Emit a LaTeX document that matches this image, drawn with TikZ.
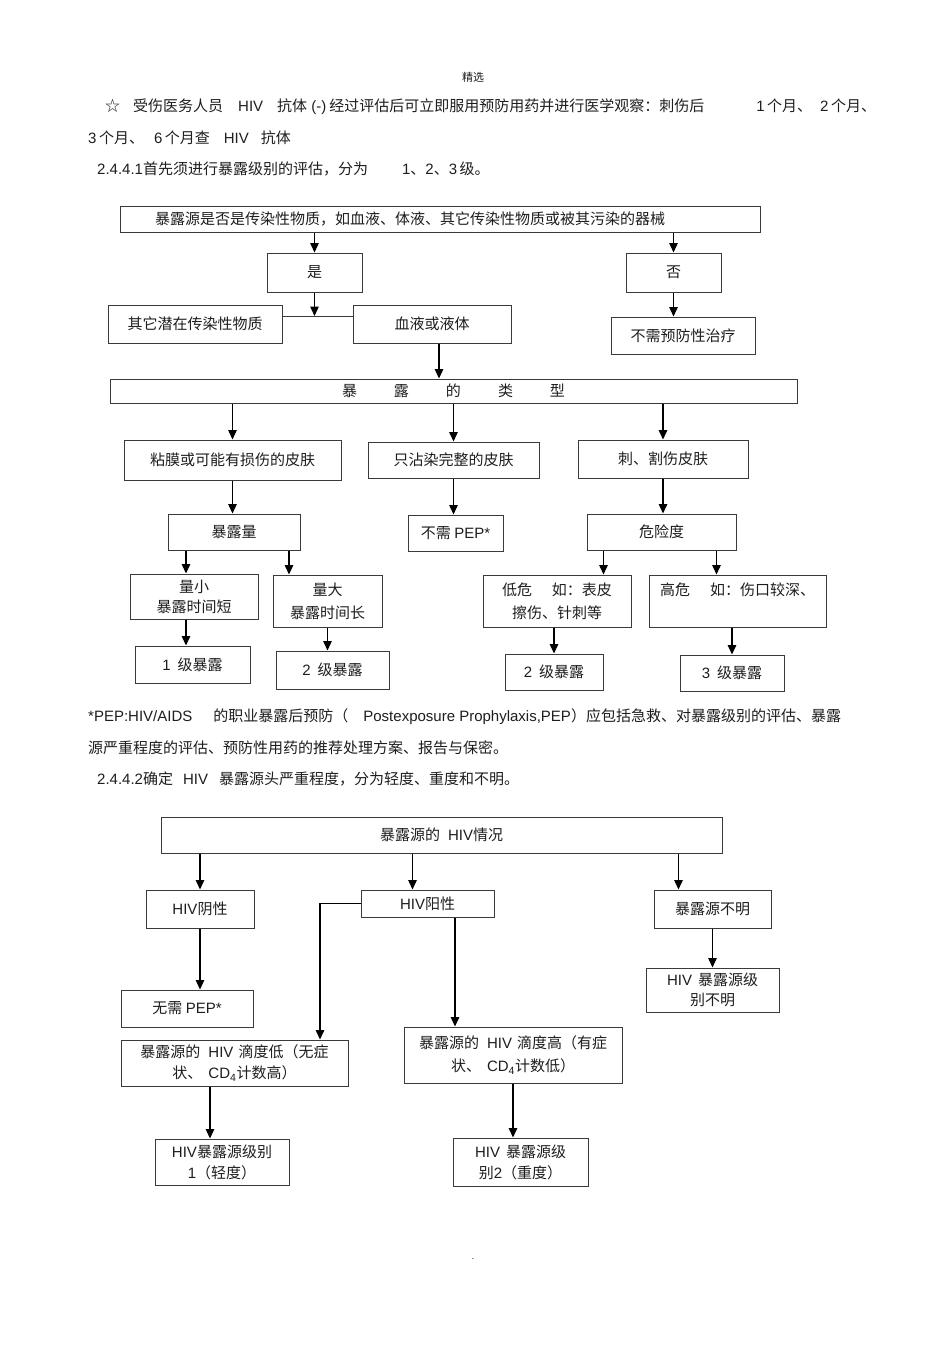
\documentclass[tikz,border=0pt]{standalone}
\usepackage{fontspec}
\setmainfont{Noto Sans CJK SC}
\newfontfamily\en{Liberation Sans}
\usetikzlibrary{positioning,arrows.meta}
\definecolor{ink}{HTML}{1E1E1E}
\definecolor{frame}{HTML}{3A3A3A}

\begin{document}
\begin{tikzpicture}[
  x=1pt,y=-1pt,
  every node/.style={font=\fontsize{15}{23}\selectfont,text=ink},
  box/.style={draw=frame,line width=1pt,inner sep=0pt,align=center},
  line/.style={anchor=west,inner sep=0pt},
  arrow/.style={-{Triangle[length=9.5pt,width=8.5pt]},draw=black,line width=1.4pt}
]
\fill[white] (0,0) rectangle (950,1345);
\useasboundingbox (0,0) rectangle (950,1345);

\node[inner sep=0pt,font=\fontsize{11}{13}\selectfont] (mark) at (473,77) {精选};
\node[line] (intro) at (105,107) {☆\hspace{13pt}受伤医务人员\hspace{15pt}{\en HIV}\hspace{14pt}抗体{\en\ (-)}\hspace{3pt}经过评估后可立即服用预防用药并进行医学观察：刺伤后\hspace{52pt}{\en 1}\,个月、\hspace{8pt}{\en 2}\,个月、};
\node[line] (introb) at (88,138) {{\en 3}\,个月、\hspace{10pt}{\en 6}\,个月查\hspace{14pt}{\en HIV}\hspace{12pt}抗体};
\node[line] (sec1) at (97,169) {{\en 2.4.4.1}首先须进行暴露级别的评估，分为\hspace{34pt}{\en 1}、{\en 2}、{\en 3}\,级。};

\node[box,minimum width=640,minimum height=26,text width=570,inner xsep=35pt,align=left] (q) at (440,219) {暴露源是否是传染性物质，如血液、体液、其它传染性物质或被其污染的器械};
\node[box,minimum width=95,minimum height=39] (yes) at (314.5,272.5) {是};
\node[box,minimum width=95,minimum height=39] (no) at (673.5,272.5) {否};
\node[box,minimum width=174,minimum height=38] (other) at (195,324) {其它潜在传染性物质};
\node[box,minimum width=158,minimum height=38] (blood) at (432,324) {血液或液体};
\node[box,minimum width=144,minimum height=37] (none) at (683,335.5) {不需预防性治疗};
\node[box,minimum width=687,minimum height=24] (type) at (453.5,391) {暴\hspace{37pt}露\hspace{37pt}的\hspace{37pt}类\hspace{37pt}型};
\node[box,minimum width=217,minimum height=40] (mucosa) at (232.5,460) {粘膜或可能有损伤的皮肤};
\node[box,minimum width=171,minimum height=36] (intact) at (453.5,460) {只沾染完整的皮肤};
\node[box,minimum width=170,minimum height=38] (stab) at (663,459) {刺、割伤皮肤};
\node[box,minimum width=132,minimum height=36] (vol) at (234,532) {暴露量};
\node[box,minimum width=95,minimum height=36] (nopep) at (455.5,533) {不需 {\en PEP*}};
\node[box,minimum width=149,minimum height=36] (risk) at (661.5,532) {危险度};
\node[box,minimum width=128,minimum height=45] (small) at (194,596.5) {量小\\[-3pt]暴露时间短};
\node[box,minimum width=109,minimum height=52] (large) at (327.5,601) {量大\\暴露时间长};
\node[box,minimum width=148,minimum height=52] (low) at (557,601) {低危\hspace{20pt}如：表皮\\擦伤、针刺等};
\node[box,minimum width=177,minimum height=52] (high) at (737.5,601) {高危\hspace{20pt}如：伤口较深、\\\mbox{}};
\node[box,minimum width=115,minimum height=37] (lv1) at (192.5,664.5) {{\en 1}\hspace{7pt}级暴露};
\node[box,minimum width=113,minimum height=38] (lv2a) at (332.5,670) {{\en 2}\hspace{7pt}级暴露};
\node[box,minimum width=98,minimum height=36] (lv2b) at (554,672) {{\en 2}\hspace{7pt}级暴露};
\node[box,minimum width=104,minimum height=36] (lv3) at (732,673) {{\en 3}\hspace{7pt}级暴露};

\coordinate (join) at (310,316);
\draw[arrow] (yes.north |- q.south) -- (yes.north);
\draw[arrow] (no.north |- q.south) -- (no.north);
\draw[frame,line width=1pt] (other.east |- join) -- (blood.west |- join);
\draw[arrow] (yes.south) -- (yes.south |- join);
\draw[arrow] (no.south) -- (no.south |- none.north);
\draw[arrow] ([xshift=7pt]blood.south) -- ([xshift=7pt]blood.south |- type.north);
\draw[arrow] (mucosa.north |- type.south) -- (mucosa.north);
\draw[arrow] (intact.north |- type.south) -- (intact.north);
\draw[arrow] (stab.north |- type.south) -- (stab.north);
\draw[arrow] (mucosa.south) -- (mucosa.south |- vol.north);
\draw[arrow] (intact.south) -- (intact.south |- nopep.north);
\draw[arrow] (stab.south) -- (stab.south |- risk.north);
\draw[arrow] ([xshift=-48pt]vol.south) -- ([xshift=-48pt]vol.south |- small.north);
\draw[arrow] ([xshift=55pt]vol.south) -- ([xshift=55pt]vol.south |- large.north);
\draw[arrow] ([xshift=-58pt]risk.south) -- ([xshift=-58pt]risk.south |- low.north);
\draw[arrow] ([xshift=55pt]risk.south) -- ([xshift=55pt]risk.south |- high.north);
\draw[arrow] ([xshift=-8pt]small.south) -- ([xshift=-8pt]small.south |- lv1.north);
\draw[arrow] (large.south) -- (large.south |- lv2a.north);
\draw[arrow] (lv2b.north |- low.south) -- (lv2b.north);
\draw[arrow] (lv3.north |- high.south) -- (lv3.north);

\node[line] (note) at (88,717) {{\en *PEP:HIV/AIDS}\hspace{21pt}的职业暴露后预防（\hspace{15pt}{\en Postexposure Prophylaxis,PEP}）应包括急救、对暴露级别的评估、暴露};
\node[line] (noteb) at (88,748) {源严重程度的评估、预防性用药的推荐处理方案、报告与保密。};
\node[line] (sec2) at (97,779) {{\en 2.4.4.2}确定\hspace{10pt}{\en HIV}\hspace{11pt}暴露源头严重程度，分为轻度、重度和不明。};

\node[box,minimum width=561,minimum height=36] (src) at (441.5,835) {暴露源的\hspace{8pt}{\en HIV}情况};
\node[box,minimum width=108,minimum height=38] (neg) at (200,909) {{\en HIV}阴性};
\node[box,minimum width=133,minimum height=27] (pos) at (427.5,903.5) {{\en HIV}阳性};
\node[box,minimum width=117,minimum height=38] (unk) at (712.5,909) {暴露源不明};
\node[box,minimum width=132,minimum height=37] (nopeps) at (187,1008.5) {无需 {\en PEP*}};
\node[box,minimum width=133,minimum height=44] (unklv) at (712.5,990) {{\en HIV}\hspace{6pt}暴露源级\\[-3pt]别不明};
\node[box,minimum width=227,minimum height=46] (lowtit) at (234.5,1063) {暴露源的\hspace{8pt}{\en HIV}\hspace{5pt}滴度低（无症\\[-2pt]状、\hspace{6pt}{\en CD\textsubscript{4}}计数高）};
\node[box,minimum width=218,minimum height=56] (hightit) at (513,1055) {暴露源的\hspace{8pt}{\en HIV}\hspace{5pt}滴度高（有症\\状、\hspace{6pt}{\en CD\textsubscript{4}}计数低）};
\node[box,minimum width=134,minimum height=46] (grade1) at (222,1162) {{\en HIV}暴露源级别\\[-2pt]{\en 1}（轻度）};
\node[box,minimum width=135,minimum height=48] (grade2) at (520.5,1162) {{\en HIV}\hspace{6pt}暴露源级\\[-2pt]别{\en 2}（重度）};

\draw[arrow] (neg.north |- src.south) -- (neg.north);
\draw[arrow] ([xshift=-15pt]pos.north |- src.south) -- ([xshift=-15pt]pos.north);
\draw[arrow] ([xshift=-34pt]unk.north |- src.south) -- ([xshift=-34pt]unk.north);
\draw[arrow] (neg.south) -- (neg.south |- nopeps.north);
\draw[arrow] (pos.west) -| ([xshift=85.5pt]lowtit.north);
\draw[arrow] ([xshift=27.5pt]pos.south) -- ([xshift=27.5pt]pos.south |- hightit.north);
\draw[arrow] (unk.south) -- (unk.south |- unklv.north);
\draw[arrow] ([xshift=-12pt]grade1.north |- lowtit.south) -- ([xshift=-12pt]grade1.north);
\draw[arrow] (hightit.south) -- (hightit.south |- grade2.north);

\node[inner sep=0pt,font=\fontsize{8}{9}\selectfont] (dot) at (473,1259) {.};
\end{tikzpicture}
\end{document}
